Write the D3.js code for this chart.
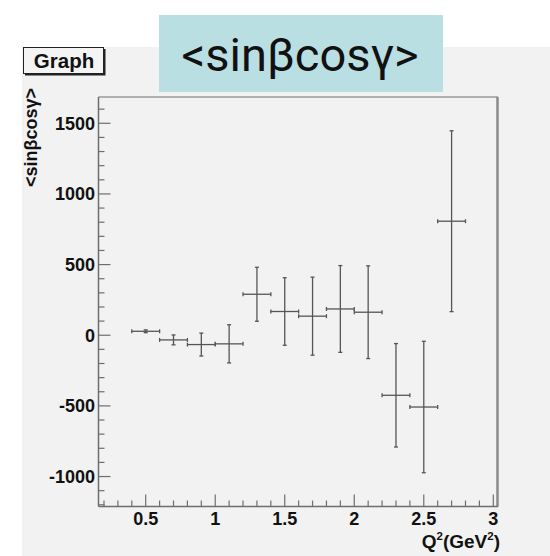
<!DOCTYPE html>
<html><head><meta charset="utf-8">
<script src="https://cdn.jsdelivr.net/npm/d3@7"></script>
<style>html,body{margin:0;padding:0;background:#fff;}svg{display:block;}</style>
</head><body>
<script>
// ---- data ----
const q2 = [0.5, 0.7, 0.9, 1.1, 1.3, 1.5, 1.7, 1.9, 2.1, 2.3, 2.5, 2.7];
const values = [28, -33, -66, -61, 290, 168, 135, 186, 163, -425, -508, 807];
const yErr = [10, 35, 81, 135, 191, 239, 276, 307, 328, 366, 465, 640];
const xErr = [0.1, 0.1, 0.1, 0.1, 0.1, 0.1, 0.1, 0.1, 0.1, 0.1, 0.1, 0.1];
const xTicks = [0.5, 1, 1.5, 2, 2.5, 3];
const xTickLabels = ["0.5", "1", "1.5", "2", "2.5", "3"];
const yTicks = [-1000, -500, 0, 500, 1000, 1500];
const yTickLabels = ["-1000", "-500", "0", "500", "1000", "1500"];
const titleText = "<sinβcosγ>";
const yTitle = "<sinβcosγ>";
const legendText = "Graph";

const W = 550, H = 556;
const L = 98.5, R = 498, T = 97, B = 506.5;
const svg = d3.select("body").append("svg").attr("width", W).attr("height", H);

const x = d3.scaleLinear().domain([0.1605, 3.0338]).range([L, R]);
const y = d3.scaleLinear().domain([-1212, 1686]).range([B, T]);

// canvas
svg.append("rect").attr("x", 22).attr("y", 47).attr("width", W - 22).attr("height", H - 47).attr("fill", "#f2f2f2");

// frame top/right
svg.append("line").attr("x1", L).attr("x2", R).attr("y1", T).attr("y2", T).attr("stroke", "#9a9a9a").attr("stroke-width", 1.5);
svg.append("line").attr("x1", R - 0.5).attr("x2", R - 0.5).attr("y1", T).attr("y2", B).attr("stroke", "#8a8a8a").attr("stroke-width", 2.5);

const font = "'Liberation Sans', Arial, Helvetica, sans-serif";
const axCol = "#6e6e6e";

// Y axis
const yAxisG = svg.append("g").attr("transform", `translate(${L},0)`);
yAxisG.append("line").attr("y1", T).attr("y2", B).attr("stroke", axCol).attr("stroke-width", 1.5);
const yMinor = d3.range(-1200, 1700, 100).filter(v => !yTicks.includes(v));
yAxisG.selectAll(".ymin").data(yMinor).join("line")
  .attr("x1", 0).attr("x2", 6).attr("y1", d => y(d)).attr("y2", d => y(d))
  .attr("stroke", axCol).attr("stroke-width", 1.2);
yAxisG.selectAll(".ymaj").data(yTicks).join("line")
  .attr("x1", 0).attr("x2", 12).attr("y1", d => y(d)).attr("y2", d => y(d))
  .attr("stroke", axCol).attr("stroke-width", 1.2);
yAxisG.selectAll(".ylab").data(yTicks).join("text")
  .attr("x", -3.5).attr("y", d => y(d) + 6.3).attr("text-anchor", "end")
  .attr("font-family", font).attr("font-weight", "bold").attr("font-size", 18).attr("fill", "#111")
  .text((d, i) => yTickLabels[i]);

// X axis
const xAxisG = svg.append("g").attr("transform", `translate(0,${B})`);
xAxisG.append("line").attr("x1", L).attr("x2", R).attr("stroke", axCol).attr("stroke-width", 1.5);
const xMinor = d3.range(2, 31).map(v => v / 10).filter(v => !xTicks.some(t => Math.abs(t - v) < 1e-9));
xAxisG.selectAll(".xmin").data(xMinor).join("line")
  .attr("x1", d => x(d)).attr("x2", d => x(d)).attr("y1", 0).attr("y2", -6)
  .attr("stroke", axCol).attr("stroke-width", 1.2);
xAxisG.selectAll(".xmaj").data(xTicks).join("line")
  .attr("x1", d => x(d)).attr("x2", d => x(d)).attr("y1", 0).attr("y2", -12)
  .attr("stroke", axCol).attr("stroke-width", 1.2);
xAxisG.selectAll(".xlab").data(xTicks).join("text")
  .attr("x", d => x(d)).attr("y", 18.5).attr("text-anchor", "middle")
  .attr("font-family", font).attr("font-weight", "bold").attr("font-size", 18).attr("fill", "#111")
  .text((d, i) => xTickLabels[i]);

// X title
const xt = svg.append("text").attr("x", R + 2).attr("y", 547.5).attr("text-anchor", "end")
  .attr("font-family", font).attr("font-weight", "bold").attr("font-size", 19).attr("fill", "#111");
xt.append("tspan").text("Q");
xt.append("tspan").attr("font-size", 11.5).attr("dy", -7.5).text("2");
xt.append("tspan").attr("dy", 7.5).text("(GeV");
xt.append("tspan").attr("font-size", 11.5).attr("dy", -7.5).text("2");
xt.append("tspan").attr("dy", 7.5).text(")");

// Y title
svg.append("text").attr("transform", "translate(37,88) rotate(-90)").attr("text-anchor", "end")
  .attr("font-family", font).attr("font-weight", "bold").attr("font-size", 18).attr("fill", "#111")
  .text(yTitle);

// data error bars
const pts = q2.map((q, i) => ({ q, v: values[i], ey: yErr[i], ex: xErr[i] }));
const ebCol = "#555", ebW = 1.3, cap = 2;
const g = svg.append("g").attr("stroke", ebCol).attr("stroke-width", ebW);
pts.forEach(p => {
  const cx = x(p.q), cy = y(p.v);
  const xl = x(p.q - p.ex), xr = x(p.q + p.ex);
  const yt = y(p.v + p.ey), yb = y(p.v - p.ey);
  g.append("line").attr("x1", xl).attr("x2", xr).attr("y1", cy).attr("y2", cy);
  g.append("line").attr("x1", cx).attr("x2", cx).attr("y1", yt).attr("y2", yb);
  g.append("line").attr("x1", xl).attr("x2", xl).attr("y1", cy - cap).attr("y2", cy + cap);
  g.append("line").attr("x1", xr).attr("x2", xr).attr("y1", cy - cap).attr("y2", cy + cap);
  g.append("line").attr("x1", cx - cap).attr("x2", cx + cap).attr("y1", yt).attr("y2", yt);
  g.append("line").attr("x1", cx - cap).attr("x2", cx + cap).attr("y1", yb).attr("y2", yb);
});

// Graph label box with shadow
svg.append("rect").attr("x", 25).attr("y", 49).attr("width", 80.5).attr("height", 26.5).attr("fill", "#222");
svg.append("rect").attr("x", 23.5).attr("y", 47.5).attr("width", 80).attr("height", 26).attr("fill", "#f4f4f4").attr("stroke", "#222").attr("stroke-width", 1);
svg.append("text").attr("x", 64).attr("y", 67.5).attr("text-anchor", "middle")
  .attr("font-family", font).attr("font-weight", "bold").attr("font-size", 20.5).attr("fill", "#111")
  .text(legendText);

// Title box
svg.append("rect").attr("x", 159).attr("y", 15).attr("width", 284).attr("height", 77).attr("fill", "#b9dfe3");
svg.append("text").attr("x", 300).attr("y", 71).attr("text-anchor", "middle")
  .attr("font-family", "Roboto, 'Liberation Sans', sans-serif").attr("font-size", 47).attr("fill", "#111")
  .text(titleText);
</script>
</body></html>
